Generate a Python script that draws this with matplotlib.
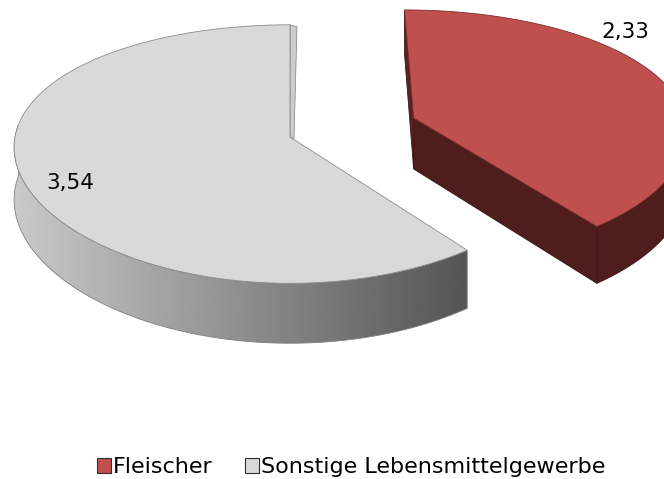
import numpy as np
import matplotlib.pyplot as plt
from matplotlib.patches import Polygon, Patch

# chart data
labels = ['Fleischer', 'Sonstige Lebensmittelgewerbe']
values = [2.33, 3.54]
value_text = ['2,33', '3,54']
top_colors = ['#c0504d', '#d9d9d9']
side_colors = ['#4e1d1c', None]

plt.rcParams['font.family'] = ['DejaVu Sans']

# pie geometry in pixels (y pointing down), with a little perspective
cx, cy = 290, 137
A, B = 275, 127
kx, ky = 0.08, 0.132
depth = 52
explode = [0.48, 0.0]
label_pos = [(625, 32), (70, 183)]

fig = plt.figure(figsize=(6.64, 4.79), dpi=100)
ax = fig.add_axes([0, 0, 1, 1])
ax.set_xlim(0, 664)
ax.set_ylim(479, 0)
ax.axis('off')


def pt(u, v, z=0):
    # u: right, v: backwards (disk units); z: 1 for the bottom face
    return (cx + A * u / (1 + kx * v),
            cy - B * v / (1 + ky * v) + z * depth / (1 + ky * v))


def rim_pts(ou, ov, ths, z=0):
    t = np.radians(ths)
    return np.array([pt(ou + np.cos(a), ov + np.sin(a), z) for a in t])


fracs = np.array(values) / sum(values)
starts = 90 - 360 * np.concatenate([[0], np.cumsum(fracs)[:-1]])
ends = starts - 360 * fracs

for i in [1, 0]:
    s, e = starts[i], ends[i]
    mid = np.radians((s + e) / 2)
    ou, ov = explode[i] * np.cos(mid), explode[i] * np.sin(mid)
    th = np.linspace(e, s, 240)
    rim = rim_pts(ou, ov, th)
    apex = pt(ou, ov)
    apex_b = pt(ou, ov, 1)
    edge = '#808080' if i == 1 else '#3a1514'

    # front part of the outer rim
    front = th[np.sin(np.radians(th)) <= 0.1]
    up = rim_pts(ou, ov, front)
    dn = rim_pts(ou, ov, front, 1)[::-1]
    side = Polygon(np.vstack([up, dn]), closed=True, facecolor='none',
                   edgecolor=edge, lw=0.6, zorder=2)
    ax.add_patch(side)
    if side_colors[i] is None:
        xs = np.vstack([up, dn])[:, 0]
        grad = np.linspace(0.79, 0.33, 256)[None, :]
        im = ax.imshow(grad, cmap='gray', vmin=0, vmax=1, aspect='auto',
                       extent=[xs.min(), xs.max(), 479, 0], zorder=1)
        im.set_clip_path(side)
    else:
        side.set_facecolor(side_colors[i])

    if i == 0:
        # cut face along the end angle (facing the viewer)
        r_top = rim_pts(ou, ov, [e])[0]
        r_bot = rim_pts(ou, ov, [e], 1)[0]
        ax.add_patch(Polygon([apex, r_top, r_bot, apex_b], closed=True,
                             facecolor=side_colors[i], edgecolor=edge,
                             lw=0.6, zorder=2))
        # thin cut face along the start angle
        s_top = rim_pts(ou, ov, [s])[0]
        s_bot = rim_pts(ou, ov, [s], 1)[0]
        ax.add_patch(Polygon([apex, s_top, s_bot, apex_b], closed=True,
                             facecolor='#5a2322', edgecolor=edge,
                             lw=0.6, zorder=2))
    else:
        e_top = rim_pts(ou, ov, [e])[0]
        strip = [apex, e_top, (e_top[0] + 7, e_top[1] + 2),
                 (apex[0] + 4, apex[1] + 2)]
        ax.add_patch(Polygon(strip, closed=True, facecolor='#cccccc',
                             edgecolor=edge, lw=0.5, zorder=2))

    top = np.vstack([[apex], rim])
    ax.add_patch(Polygon(top, closed=True, facecolor=top_colors[i],
                         edgecolor='#8c8c8c' if i == 1 else '#7a2d2b',
                         lw=0.6, zorder=3))

    ax.text(label_pos[i][0], label_pos[i][1], value_text[i], fontsize=15.5,
            ha='center', va='center', color='black', zorder=5)

handles = [Patch(facecolor=c, edgecolor='#303030', lw=0.8) for c in top_colors]
fig.legend(handles, labels, loc='lower left', bbox_to_anchor=(97 / 664, 0.004),
           ncol=2, frameon=False, fontsize=16, handlelength=0.63,
           handleheight=0.63, handletextpad=0.1, columnspacing=1.45,
           borderpad=0, borderaxespad=0)

fig.savefig('out.png', dpi=100)
